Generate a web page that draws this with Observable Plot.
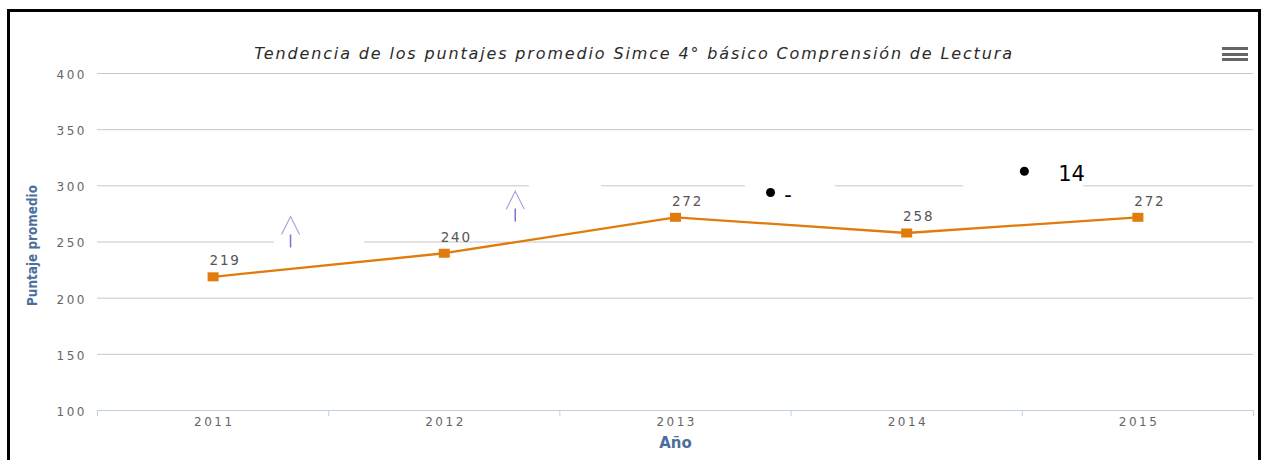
<!DOCTYPE html>
<html><head><meta charset="utf-8">
<script src="https://cdn.jsdelivr.net/npm/d3@7"></script>
<script src="https://cdn.jsdelivr.net/npm/@observablehq/plot@0.6"></script>
<style>
html,body{margin:0;padding:0;background:#fff;overflow:hidden;}
#wrap{position:relative;width:1261px;height:460px;}
#chart{position:absolute;left:0;top:0;}
#frame{position:absolute;left:7px;top:9px;width:1248px;height:470px;border:3px solid #000;pointer-events:none;}
#title{position:absolute;left:0;width:1268px;top:43.5px;line-height:16px;text-align:center;font:italic 16px "DejaVu Sans";letter-spacing:1.85px;color:#2b2b2b;white-space:nowrap;}
#menu{position:absolute;left:1222px;top:47px;width:26px;}
#menu div{height:3px;background:#666;margin-bottom:2.5px;}
#chart g[font-size="12"] text{letter-spacing:2.5px;}
#chart g[font-size="13.5"] text{letter-spacing:1.8px;}
</style></head>
<body>
<div id="wrap">
  <div id="chart"></div>
  <div id="title">Tendencia de los puntajes promedio Simce 4° básico Comprensión de Lectura</div>
  <div id="menu"><div></div><div></div><div></div></div>
  <div id="frame"></div>
</div>
<script>
// ---- data ----
const years = [2011, 2012, 2013, 2014, 2015];
const scores = [219, 240, 272, 258, 272];
const yTicks = [100, 150, 200, 250, 300, 350, 400];
const xBoundaries = [2010.5, 2011.5, 2012.5, 2013.5, 2014.5, 2015.5];
const yTitle = "Puntaje promedio";
const xTitle = "Año";

// ---- annotations (overlay artefacts, in data units) ----
const arrowX = [2011.335, 2012.307];
const arrowTipY = [272.7, 295.2];
const arrowBaseY = [256.7, 279.8];
const arrowTailY = [245.1, 268.2];
const maskX1 = [2011.266, 2012.369, 2013.303, 2014.246];
const maskX2 = [2011.655, 2012.680, 2013.692, 2014.765];
const maskY = [250, 300, 300, 300];
const bulletX = [2013.411, 2014.509];
const bulletY = [294.1, 313.0];
const noteText = ["-", "14"];
const noteX = [2013.487, 2014.713];
const noteY = [291.4, 310.1];

const data = years.map((y, i) => ({year: y, score: scores[i]}));
const arrows = arrowX.map((x, i) => ({x, tip: arrowTipY[i], base: arrowBaseY[i], tail: arrowTailY[i]}));
const masks = maskX1.map((x1, i) => ({x1, x2: maskX2[i], y: maskY[i]}));
const bullets = bulletX.map((x, i) => ({x, y: bulletY[i]}));
const notes = noteText.map((t, i) => ({t, x: noteX[i], y: noteY[i]}));

const orange = "#e07b0c";
const square = {draw(ctx) { ctx.rect(-5.5, -4.5, 11, 9); }};
const vee = {draw(ctx) { ctx.moveTo(-9, 18); ctx.lineTo(0, 0); ctx.lineTo(9, 18); }};
const tickFont = {fontFamily: "DejaVu Sans", fontSize: 12, fill: "#666"};

const chart = Plot.plot({
  width: 1261,
  height: 460,
  marginLeft: 97,
  marginRight: 8,
  marginTop: 73,
  marginBottom: 50,
  style: {background: "transparent", overflow: "visible"},
  x: {type: "linear", domain: [xBoundaries[0], xBoundaries[xBoundaries.length - 1]], axis: null},
  y: {domain: [yTicks[0], yTicks[yTicks.length - 1]], axis: null},
  marks: [
    Plot.ruleY(yTicks.slice(1), {stroke: "#c8c8c8", strokeWidth: 1}),
    Plot.rect(masks, {x1: "x1", x2: "x2", y1: d => d.y - 3, y2: d => d.y + 3, fill: "#fff"}),
    Plot.ruleY([yTicks[0]], {stroke: "#c0d0e0", strokeWidth: 1}),
    Plot.ruleX(xBoundaries, {x: d => d, insetTop: 337, insetBottom: -6, stroke: "#c0d0e0", strokeWidth: 1}),
    Plot.text(yTicks, {frameAnchor: "left", y: d => d, text: d => String(d), textAnchor: "end", lineAnchor: "middle", dx: -10.5, dy: 1.5, ...tickFont}),
    Plot.text(years, {x: d => d, frameAnchor: "bottom", text: d => String(d), textAnchor: "middle", lineAnchor: "middle", dy: 11.5, dx: 1.2, ...tickFont}),
    Plot.text([yTitle], {frameAnchor: "left", textAnchor: "middle", lineAnchor: "middle", dx: -64.5, dy: 3.5, rotate: -90, fontFamily: "'Liberation Sans Narrow', 'DejaVu Sans Condensed', 'DejaVu Sans'", fontStretch: "condensed", fontWeight: "bold", fontSize: 13.4, fill: "#4b6f9c"}),
    Plot.text([xTitle], {frameAnchor: "bottom", textAnchor: "middle", lineAnchor: "middle", dy: 33, fontFamily: "DejaVu Sans", fontWeight: "bold", fontSize: 15, fill: "#4b6f9c"}),
    Plot.line(data, {x: "year", y: "score", stroke: orange, strokeWidth: 2.3}),
    Plot.dot(data, {x: "year", y: "score", symbol: square, fill: orange, stroke: "none"}),
    Plot.text(data, {x: "year", y: "score", text: d => String(d.score), dx: 12, dy: -16, fontFamily: "DejaVu Sans", fontSize: 13.5, fill: "#555"}),
    Plot.link(arrows, {x1: "x", x2: "x", y1: "tail", y2: "base", stroke: "#8a6ccc", strokeWidth: 1.5}),
    Plot.dot(arrows, {x: "x", y: "tip", symbol: vee, fill: "none", stroke: "#a99be0", strokeWidth: 1.1}),
    Plot.dot(bullets, {x: "x", y: "y", r: 4.5, fill: "#000", stroke: "none"}),
    Plot.text(notes, {x: "x", y: "y", text: "t", fontFamily: "DejaVu Sans", fontSize: 21, fill: "#000"})
  ]
});
document.getElementById("chart").appendChild(chart);
</script>
</body></html>
